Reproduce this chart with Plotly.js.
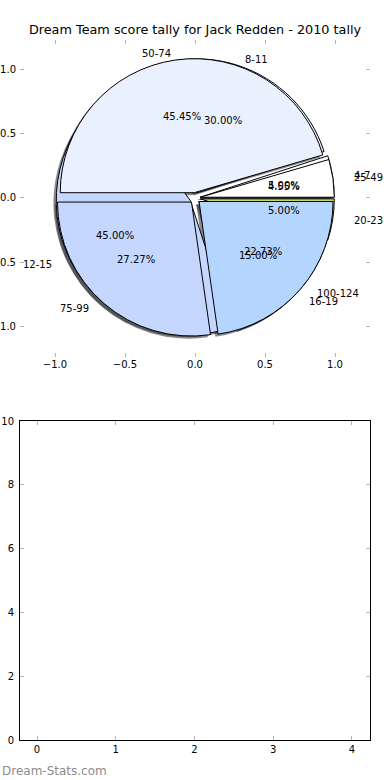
<!DOCTYPE html>
<html><head><meta charset="utf-8">
<script src="https://cdn.plot.ly/plotly-3.0.1.min.js"></script>
<style>html,body{margin:0;padding:0;background:#fff}#chart{width:390px;height:780px}</style>
</head><body><div id="chart"></div>
<script>
// 2010 score tally (first pie)
const labelsA = ['25-49', '50-74', '75-99', '100-124'];
const valuesA = [1, 10, 6, 5];
// second overlapping pie
const labelsB = ['4-7', '8-11', '12-15', '16-19', '20-23'];
const valuesB = [1, 6, 9, 3, 1];
// axis ticks
const pieTicks = [-1.0, -0.5, 0.0, 0.5, 1.0];
const bottomXTicks = [0, 1, 2, 3, 4];
const bottomYTicks = [0, 2, 4, 6, 8, 10];

const colorsA = ['#ffffff', '#eaf1fe', '#c5d7fe', '#b4d5fe'];
const colorsB = ['#ffffff', '#eaf1fe', '#c5d7fe', '#b4d5fe', '#c9dc5a'];
const explode = 0.04;

const W = 390, H = 780;
const cx = 195, cy = 198, rPx = 134;
const S = 2 * rPx * (1 + explode);
function dom(dx, dy) {
  return {
    x: [(cx - S / 2 + dx) / W, (cx + S / 2 + dx) / W],
    y: [(H - cy - S / 2 + dy) / H, (H - cy + S / 2 + dy) / H]
  };
}
function total(v) { return v.reduce((a, b) => a + b, 0); }
function rot(v) { return 90 - 360 * v[0] / total(v); }

function pie(labels, values, colors, shadow) {
  return {
    type: 'pie', labels: labels, values: values, sort: false,
    direction: 'counterclockwise', rotation: rot(values),
    pull: values.map(() => explode),
    marker: {
      colors: shadow ? values.map(() => 'rgba(40,40,50,0.55)') : colors,
      line: {color: shadow ? 'rgba(0,0,0,0)' : '#000000', width: shadow ? 0 : 1}
    },
    textinfo: 'none', hoverinfo: 'skip', showlegend: false,
    domain: shadow ? dom(-2.8, -2.6) : dom(0, 0)
  };
}

const font = {family: 'DejaVu Sans', size: 10, color: '#000'};
const annotations = [];
function addText(labels, values) {
  const t = total(values);
  let cum = 0;
  labels.forEach((lab, i) => {
    const f = values[i] / t;
    const th = 2 * Math.PI * (cum + f / 2);
    cum += f;
    const lx = (1.1 + explode) * Math.cos(th), ly = (1.1 + explode) * Math.sin(th);
    annotations.push({x: lx, y: ly, xref: 'x', yref: 'y', text: lab, showarrow: false,
      xanchor: lx > 0 ? 'left' : 'right', yanchor: 'middle', font: font, borderpad: 0});
    const px = (0.6 + explode) * Math.cos(th), py = (0.6 + explode) * Math.sin(th);
    annotations.push({x: px, y: py, xref: 'x', yref: 'y', text: (100 * f).toFixed(2) + '%',
      showarrow: false, xanchor: 'center', yanchor: 'middle', font: font, borderpad: 0});
  });
}
addText(labelsB, valuesB);
addText(labelsA, valuesA);

annotations.push({x: 0, y: 9 / H, xref: 'paper', yref: 'paper', xanchor: 'left', yanchor: 'middle',
  text: 'Dream-Stats.com', showarrow: false,
  font: {family: 'DejaVu Sans', size: 12, color: '#8c8c8c'}});

const data = [
  pie(labelsB, valuesB, colorsB, true),
  pie(labelsA, valuesA, colorsA, true),
  pie(labelsB, valuesB, colorsB, false),
  pie(labelsA, valuesA, colorsA, false)
];

const tickCol = '#b4b4b4';
const layout = {
  width: W, height: H, margin: {l: 0, r: 0, t: 0, b: 0},
  paper_bgcolor: '#ffffff', plot_bgcolor: 'rgba(0,0,0,0)',
  font: font,
  title: {text: 'Dream Team score tally for Jack Redden - 2010 tally', x: 0.5, xanchor: 'center',
    y: 1 - 30 / H, yanchor: 'middle', font: {family: 'DejaVu Sans', size: 12.8, color: '#000'}},
  xaxis: {domain: [20 / W, 370 / W], range: [-1.25, 1.25], tickvals: pieTicks, tickformat: '.1f',
    ticks: 'inside', ticklen: 4, tickcolor: tickCol, mirror: 'ticks', showline: false,
    showgrid: false, zeroline: false, tickfont: font, fixedrange: true},
  yaxis: {domain: [423 / H, 740 / H], range: [-1.242, 1.234], tickvals: pieTicks, tickformat: '.1f',
    ticks: 'inside', ticklen: 4, tickcolor: tickCol, mirror: 'ticks', showline: false,
    showgrid: false, zeroline: false, tickfont: font, fixedrange: true, ticklabelstandoff: 3},
  xaxis2: {domain: [20 / W, 370 / W], range: [-0.216, 4.229], tickvals: bottomXTicks, anchor: 'y2',
    ticks: 'inside', ticklen: 4, tickcolor: tickCol, mirror: 'ticks', showline: true,
    linecolor: '#000', linewidth: 1, showgrid: false, zeroline: false, tickfont: font},
  yaxis2: {domain: [40 / H, 359 / H], range: [0, 10], tickvals: bottomYTicks, anchor: 'x2',
    ticks: 'inside', ticklen: 4, tickcolor: tickCol, mirror: 'ticks', showline: true,
    linecolor: '#000', linewidth: 1, showgrid: false, zeroline: false, tickfont: font,
    ticklabelstandoff: 3},
  annotations: annotations
};
// empty traces so both sets of axes are drawn
data.push({type: 'scatter', x: [], y: [], xaxis: 'x2', yaxis: 'y2', showlegend: false, hoverinfo: 'skip'});
data.push({type: 'scatter', x: [], y: [], xaxis: 'x', yaxis: 'y', showlegend: false, hoverinfo: 'skip'});

Plotly.newPlot('chart', data, layout, {displayModeBar: false, staticPlot: true});
</script>
</body></html>
